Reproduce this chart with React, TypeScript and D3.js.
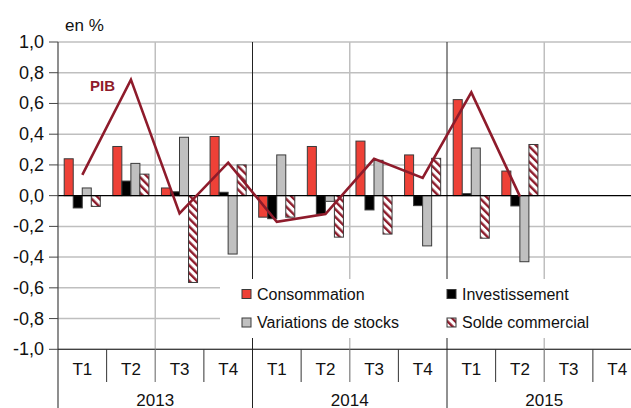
import * as d3 from 'd3';

const quarters = ['T1', 'T2', 'T3', 'T4'];
const years = ['2013', '2014', '2015'];
const series = ['Consommation', 'Investissement', 'Variations de stocks', 'Solde commercial'];

// contributions par trimestre (2013 T1 .. 2015 T2)
const consommation = [0.24, 0.32, 0.05, 0.385, -0.14, 0.32, 0.355, 0.265, 0.625, 0.16];
const investissement = [-0.08, 0.095, 0.025, 0.022, -0.15, -0.12, -0.093, -0.065, 0.013, -0.067];
const stocks = [0.05, 0.21, 0.38, -0.38, 0.265, -0.037, 0.23, -0.327, 0.31, -0.43];
const solde = [-0.07, 0.14, -0.565, 0.2, -0.14, -0.27, -0.25, 0.243, -0.277, 0.333];
const pib = [0.135, 0.755, -0.115, 0.215, -0.17, -0.12, 0.24, 0.115, 0.672, -0.005];

const yTicks = [1, 0.8, 0.6, 0.4, 0.2, 0, -0.2, -0.4, -0.6, -0.8, -1];

const W = 631;
const H = 408;
const FONT = '"Liberation Sans", Arial, sans-serif';
const RED = '#ee4137';
const DARKRED = '#8e1b2b';
const GRID = '#bfbfbf';

const fills = [RED, '#000000', '#c0c0c0', 'url(#hatch)'];
const values = [consommation, investissement, stocks, solde];

export default function App() {
  const slots = years.flatMap(y => quarters.map(q => `${y}-${q}`));
  const x = d3.scaleBand<string>().domain(slots).range([58, 641.5]);
  const qw = x.bandwidth();
  const xs = d3.scaleBand<string>().domain(series).range([6.2, 42.3]);
  const y = d3.scaleLinear().domain([-1, 1]).range([349.3, 42]);
  const y0 = y(0);

  const line = d3.line<number>()
    .x((_, i) => (x(slots[i]) || 0) + qw / 2)
    .y(d => y(d));

  const fmt = (v: number) => d3.format('.1f')(v).replace('.', ',').replace('−', '-');

  const legendItems = [
    { name: series[0], fill: fills[0], x: 242, y: 294 },
    { name: series[1], fill: fills[1], x: 447, y: 294 },
    { name: series[2], fill: fills[2], x: 242, y: 322.5 },
    { name: series[3], fill: fills[3], x: 447, y: 322.5 },
  ];

  return (
    <svg width={W} height={H} style={{ position: 'absolute', left: 0, top: 0, background: '#fff' }}>
      <defs>
        <pattern id="hatch" patternUnits="userSpaceOnUse" width="5.5" height="5.5" patternTransform="rotate(-45)">
          <rect width="5.5" height="5.5" fill="#fff" />
          <rect width="2.4" height="5.5" fill={DARKRED} />
        </pattern>
      </defs>

      {/* horizontal grid */}
      {yTicks.filter(t => t !== 0).map(t => (
        <line key={t} x1={58} x2={W} y1={y(t)} y2={y(t)} stroke={GRID} strokeWidth={1.5} />
      ))}

      {/* vertical lines: mid-year gray, year boundaries dark */}
      {years.map(yr => {
        const mid = x(`${yr}-T3`) || 0;
        return <line key={yr} x1={mid} x2={mid} y1={42} y2={382} stroke={GRID} strokeWidth={1.5} />;
      })}
      {years.slice(1).map(yr => {
        const xx = x(`${yr}-T1`) || 0;
        return <line key={yr} x1={xx} x2={xx} y1={42} y2={H} stroke="#222" strokeWidth={1} />;
      })}

      {/* bars */}
      {values.map((vals, si) => vals.map((v, i) => (
        <rect
          key={`${si}-${i}`}
          x={(x(slots[i]) || 0) + (xs(series[si]) || 0)}
          y={Math.min(y(v), y0)}
          width={xs.bandwidth()}
          height={Math.abs(y(v) - y0)}
          fill={fills[si]}
          stroke="#3a3a3a"
          strokeWidth={1}
        />
      )))}

      {/* zero line */}
      <line x1={58} x2={W} y1={y0} y2={y0} stroke="#000" strokeWidth={1.3} />

      {/* PIB */}
      <path d={line(pib) || ''} fill="none" stroke={DARKRED} strokeWidth={2.6} strokeLinejoin="miter" />
      <text x={90} y={90.5} fontFamily={FONT} fontSize={15} fontWeight="bold" fill={DARKRED}>PIB</text>

      {/* legend */}
      <rect x={220} y={279} width={W - 220} height={59} fill="#fff" />
      {legendItems.map(d => (
        <g key={d.name}>
          <rect x={d.x} y={d.y - 4.5} width={9} height={9} fill={d.fill} stroke="#3a3a3a" strokeWidth={1} />
          <text x={d.x + 15} y={d.y} dominantBaseline="central" fontFamily={FONT} fontSize={16} fill="#111">{d.name}</text>
        </g>
      ))}

      {/* y axis */}
      <line x1={58} x2={58} y1={42} y2={H} stroke="#444" strokeWidth={1.2} />
      {yTicks.map(t => (
        <g key={t}>
          <line x1={49} x2={58} y1={y(t)} y2={y(t)} stroke="#444" strokeWidth={1} />
          <text x={44} y={y(t)} textAnchor="end" dominantBaseline="central" fontFamily={FONT} fontSize={18} fill="#111">{fmt(t)}</text>
        </g>
      ))}
      <text x={65} y={25} dominantBaseline="central" fontFamily={FONT} fontSize={17} fill="#111">en %</text>

      {/* x axis */}
      <line x1={58} x2={W} y1={y(-1)} y2={y(-1)} stroke="#222" strokeWidth={1} />
      {slots.map((s, i) => (
        <g key={s}>
          {i % 4 !== 0 && (
            <line x1={x(s)} x2={x(s)} y1={y(-1)} y2={382} stroke={i % 4 === 2 ? '#888' : '#333'} strokeWidth={1} />
          )}
          <text x={(x(s) || 0) + qw / 2} y={369} textAnchor="middle" dominantBaseline="central" fontFamily={FONT} fontSize={17} fill="#111">
            {quarters[i % 4]}
          </text>
        </g>
      ))}
      {years.map(yr => (
        <text key={yr} x={x(`${yr}-T3`) || 0} y={400} textAnchor="middle" dominantBaseline="central" fontFamily={FONT} fontSize={17} fill="#111">{yr}</text>
      ))}
    </svg>
  );
}
